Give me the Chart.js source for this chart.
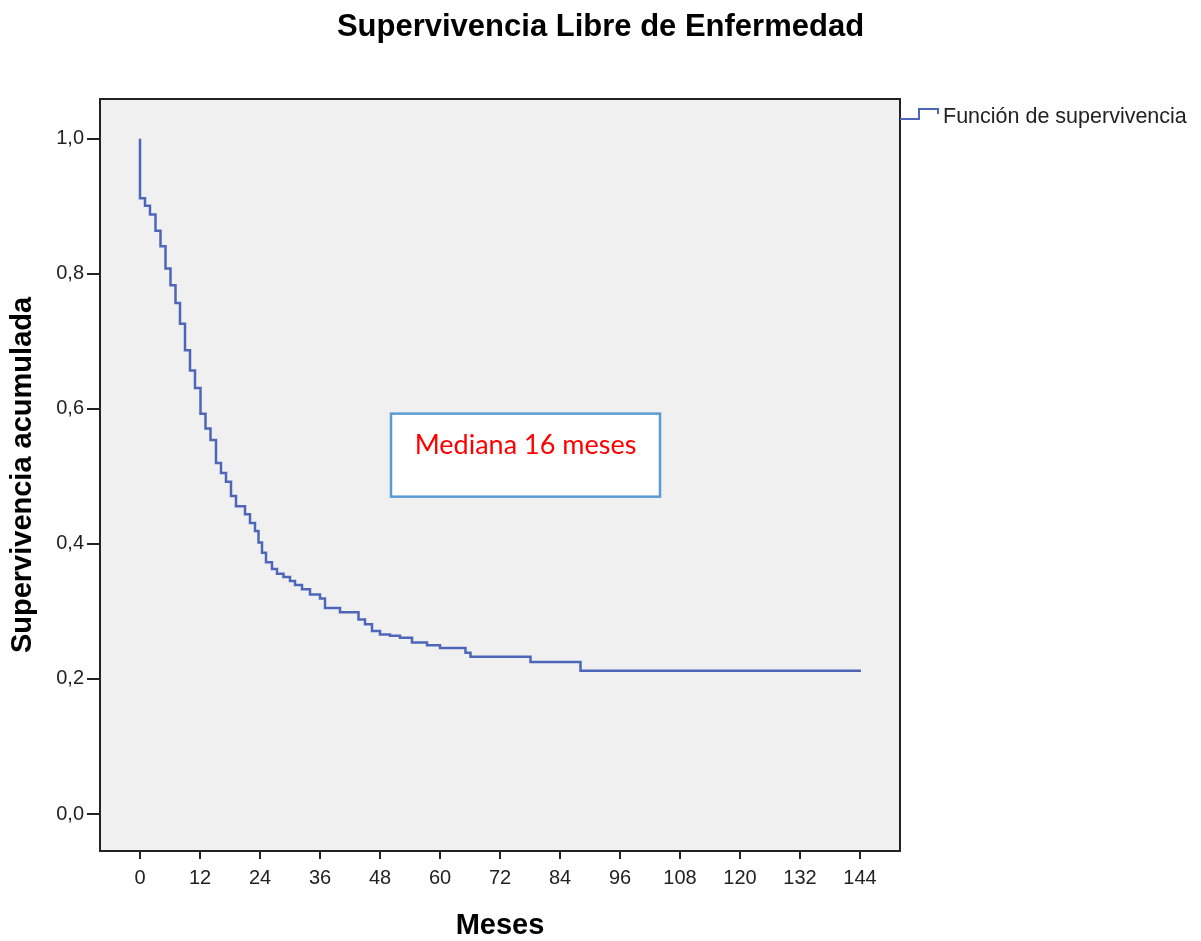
<!DOCTYPE html>
<html>
<head>
<meta charset="utf-8">
<script src="https://cdn.jsdelivr.net/npm/chart.js@4"></script>
<style>
    html, body { margin: 0; padding: 0; background: #ffffff; }
    #chart { display: block; }
</style>
</head>
<body>
<canvas id="chart" width="1201" height="941"></canvas>
<script>
// Kaplan-Meier steps: time of each drop (months) and survival after it
const months = [0, 0, 1.0, 2.0, 3.1, 4.1, 5.1, 6.1, 7.1, 8.0, 9.0, 10.0, 11.0, 12.1, 13.1, 14.1, 15.2, 16.2,
    17.2, 18.2, 19.2, 21.0, 22.0, 23.0, 23.7, 24.4, 25.2, 26.4, 27.4, 28.7, 30.0, 31.0, 32.4, 34.0, 36.0,
    37.0, 40.0, 43.7, 45.0, 46.4, 48.0, 50.0, 52.0, 54.4, 57.4, 60.0, 65.1, 66.1, 78.1, 88.1, 144.2];
const survival = [1.0, 0.912, 0.901, 0.888, 0.864, 0.841, 0.808, 0.783, 0.757, 0.726, 0.687, 0.657, 0.631,
    0.593, 0.571, 0.554, 0.520, 0.505, 0.492, 0.471, 0.456, 0.444, 0.431, 0.419, 0.402, 0.387, 0.373, 0.363,
    0.356, 0.351, 0.345, 0.339, 0.333, 0.325, 0.319, 0.305, 0.299, 0.288, 0.281, 0.271, 0.266, 0.264, 0.261,
    0.254, 0.250, 0.246, 0.239, 0.233, 0.225, 0.212, 0.212];

const xTicks = [0, 12, 24, 36, 48, 60, 72, 84, 96, 108, 120, 132, 144];
const yTicks = [0, 0.2, 0.4, 0.6, 0.8, 1.0];
const yTickLabels = ['0,0', '0,2', '0,4', '0,6', '0,8', '1,0'];

const seriesLabel = 'Función de supervivencia';
const medianText = 'Mediana 16 meses';
const medianBox = {xMin: 50.2, xMax: 104, yMin: 0.47, yMax: 0.593};

const lineColor = '#4d66b8';
const sans = "'Liberation Sans', Arial, sans-serif";

const points = months.map((m, i) => ({x: m, y: survival[i]}));

const plotBox = {
    id: 'plotBox',
    beforeDraw(chart) {
        const a = chart.chartArea;
        const ctx = chart.ctx;
        ctx.save();
        ctx.fillStyle = '#f0f0f0';
        ctx.fillRect(a.left, a.top, a.right - a.left, a.bottom - a.top);
        ctx.restore();
    },
    afterDraw(chart) {
        const a = chart.chartArea;
        const ctx = chart.ctx;
        ctx.save();
        ctx.strokeStyle = '#222';
        ctx.lineWidth = 2;
        ctx.strokeRect(a.left, a.top, a.right - a.left, a.bottom - a.top);
        ctx.restore();
    }
};

const medianNote = {
    id: 'medianNote',
    afterDatasetsDraw(chart) {
        const xs = chart.scales.x, ys = chart.scales.y;
        const ctx = chart.ctx;
        const l = xs.getPixelForValue(medianBox.xMin), r = xs.getPixelForValue(medianBox.xMax);
        const t = ys.getPixelForValue(medianBox.yMax), b = ys.getPixelForValue(medianBox.yMin);
        ctx.save();
        ctx.fillStyle = '#ffffff';
        ctx.fillRect(l, t, r - l, b - t);
        ctx.strokeStyle = '#5b9bd5';
        ctx.lineWidth = 2.5;
        ctx.strokeRect(l, t, r - l, b - t);
        ctx.fillStyle = '#ff0000';
        ctx.font = "27px Lato, 'Open Sans', sans-serif";
        ctx.textAlign = 'center';
        ctx.textBaseline = 'middle';
        ctx.fillText(medianText, (l + r) / 2, t + 32);
        ctx.restore();
    }
};

const stepLegend = {
    id: 'stepLegend',
    afterDraw(chart) {
        const a = chart.chartArea;
        const ctx = chart.ctx;
        const x0 = a.right, y0 = a.top + 20;
        ctx.save();
        ctx.strokeStyle = lineColor;
        ctx.lineWidth = 2;
        ctx.beginPath();
        ctx.moveTo(x0, y0);
        ctx.lineTo(x0 + 19, y0);
        ctx.lineTo(x0 + 19, y0 - 10);
        ctx.lineTo(x0 + 38, y0 - 10);
        ctx.lineTo(x0 + 38, y0 - 5);
        ctx.stroke();
        ctx.fillStyle = '#222';
        ctx.font = '21.5px ' + sans;
        ctx.textAlign = 'left';
        ctx.textBaseline = 'middle';
        ctx.fillText(seriesLabel, x0 + 43, y0 - 2);
        ctx.restore();
    }
};

new Chart(document.getElementById('chart'), {
    type: 'line',
    data: {
        datasets: [{
            label: seriesLabel,
            data: points,
            stepped: true,
            borderColor: lineColor,
            borderWidth: 2.5,
            pointRadius: 0,
            fill: false
        }]
    },
    options: {
        responsive: false,
        devicePixelRatio: 1,
        animation: false,
        layout: {padding: 0},
        scales: {
            x: {
                type: 'linear',
                min: -8,
                max: 152,
                afterBuildTicks: (s) => { s.ticks = xTicks.map(v => ({value: v})); },
                afterFit: (s) => { s.height = 90; },
                grid: {drawOnChartArea: false, drawTicks: true, tickLength: 8, tickColor: '#222', lineWidth: 2},
                border: {display: false},
                ticks: {color: '#222', padding: 7, maxRotation: 0, font: {family: sans, size: 20}},
                title: {display: true, text: 'Meses', color: '#000', padding: {top: 0, bottom: 1},
                    font: {family: sans, size: 29, weight: 'bold', lineHeight: 1.0}}
            },
            y: {
                type: 'linear',
                min: -0.0548,
                max: 1.059,
                afterBuildTicks: (s) => { s.ticks = yTicks.map(v => ({value: v})); },
                afterFit: (s) => { s.width = 100; },
                grid: {drawOnChartArea: false, drawTicks: true, tickLength: 13, tickColor: '#222', lineWidth: 2},
                border: {display: false},
                ticks: {
                    color: '#222', padding: 3, font: {family: sans, size: 20},
                    callback: (v) => yTickLabels[yTicks.findIndex(t => Math.abs(t - v) < 1e-6)]
                },
                title: {display: true, text: 'Supervivencia acumulada', color: '#000', padding: {top: 8, bottom: 0},
                    font: {family: sans, size: 29, weight: 'bold', lineHeight: 1.0}}
            },
            // empty right-hand axis that only reserves the room for the legend
            side: {
                type: 'linear',
                position: 'right',
                afterBuildTicks: (s) => { s.ticks = []; },
                afterFit: (s) => { s.width = 301; },
                grid: {display: false},
                border: {display: false},
                ticks: {display: false}
            }
        },
        plugins: {
            legend: {display: false},
            tooltip: {enabled: false},
            title: {
                display: true,
                text: 'Supervivencia Libre de Enfermedad',
                color: '#000',
                padding: {top: 12, bottom: 56},
                font: {family: sans, size: 31, weight: 'bold', lineHeight: 1.0}
            }
        }
    },
    plugins: [plotBox, medianNote, stepLegend]
});
</script>
</body>
</html>
